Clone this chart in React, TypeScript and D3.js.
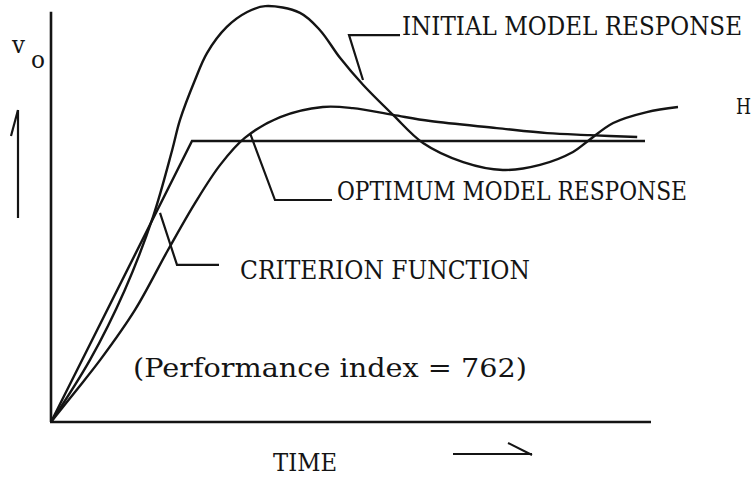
import React from "react";
import * as d3 from "d3";

// time (arbitrary units) and normalised output v_o (criterion level = 1)
const initialT = [0, 0.65, 1.23, 1.7, 2.02, 2.15, 2.4, 2.6, 2.93, 3.27, 3.57, 4.15, 4.48, 4.82, 5.2, 5.7, 6.2, 6.87, 7.53, 8.15, 8.7, 8.95, 9.37, 9.93, 10.45];
const initialV = [0, 0.221, 0.47, 0.73, 0.968, 1.075, 1.217, 1.313, 1.406, 1.459, 1.48, 1.456, 1.395, 1.295, 1.2, 1.093, 0.993, 0.925, 0.897, 0.915, 0.961, 1.0, 1.064, 1.103, 1.121];

const optimumT = [0, 0.4, 0.82, 1.4, 1.95, 2.4, 2.82, 3.23, 3.82, 4.53, 5.03, 5.7, 6.32, 7.43, 8.27, 8.98, 9.77];
const optimumV = [0, 0.107, 0.221, 0.399, 0.612, 0.779, 0.915, 1.011, 1.085, 1.121, 1.117, 1.093, 1.071, 1.046, 1.028, 1.021, 1.014];

const criterionT = [0, 2.35, 9.9];
const criterionV = [0, 1, 1];

// leader lines (data units)
const leaderInitialT = [5.2, 4.967, 5.817];
const leaderInitialV = [1.217, 1.377, 1.377];
const leaderOptimumT = [3.317, 3.733, 4.683];
const leaderOptimumV = [1.028, 0.79, 0.79];
const leaderCriterionT = [1.817, 2.1, 2.8];
const leaderCriterionV = [0.744, 0.559, 0.559];

const xMax = 10;
const yTop = 1.46;

const W = 755;
const H = 478;

export default function App() {
  const x = d3.scaleLinear().domain([0, 10]).range([51, 651]);
  const y = d3.scaleLinear().domain([0, 1]).range([422, 141]);

  const zip = (ts: number[], vs: number[]) => ts.map((t, i) => [t, vs[i]] as [number, number]);

  const smooth = d3
    .line<[number, number]>()
    .x((d) => x(d[0]))
    .y((d) => y(d[1]))
    .curve(d3.curveCatmullRom.alpha(0.5));
  const straight = d3
    .line<[number, number]>()
    .x((d) => x(d[0]))
    .y((d) => y(d[1]));

  const ink = "#141414";
  const font = "'DejaVu Serif', 'Liberation Serif', serif";
  const sw = 2.4;

  return (
    <svg
      width={W}
      height={H}
      style={{ position: "absolute", left: 0, top: 0, background: "#fff" }}
    >
      {/* axes */}
      <line x1={x(0)} y1={y(0)} x2={x(0)} y2={y(yTop)} stroke={ink} strokeWidth={2.6} />
      <line x1={x(0) - 1} y1={y(0)} x2={x(xMax)} y2={y(0)} stroke={ink} strokeWidth={2.6} />

      {/* curves */}
      <path d={straight(zip(criterionT, criterionV)) || ""} fill="none" stroke={ink} strokeWidth={sw} />
      <path d={smooth(zip(initialT, initialV)) || ""} fill="none" stroke={ink} strokeWidth={sw} />
      <path d={smooth(zip(optimumT, optimumV)) || ""} fill="none" stroke={ink} strokeWidth={sw} />

      {/* leaders */}
      <path d={straight(zip(leaderInitialT, leaderInitialV)) || ""} fill="none" stroke={ink} strokeWidth={2.2} />
      <path d={straight(zip(leaderOptimumT, leaderOptimumV)) || ""} fill="none" stroke={ink} strokeWidth={2.2} />
      <path d={straight(zip(leaderCriterionT, leaderCriterionV)) || ""} fill="none" stroke={ink} strokeWidth={2.2} />

      {/* y label and arrow */}
      <text x={12} y={53} fontFamily={font} fontSize={24} fill={ink} textLength={13} lengthAdjust="spacingAndGlyphs">v</text>
      <text x={31} y={68} fontFamily={font} fontSize={24} fill={ink} textLength={14} lengthAdjust="spacingAndGlyphs">o</text>
      <line x1={18} y1={218} x2={18} y2={110} stroke={ink} strokeWidth={2.2} />
      <line x1={11} y1={136} x2={18} y2={110} stroke={ink} strokeWidth={2.2} />

      {/* labels */}
      <g transform="translate(402,35) scale(1,1.18)">
        <text x={0} y={0} fontFamily={font} fontSize={22} fill={ink} textLength={340} lengthAdjust="spacingAndGlyphs">INITIAL MODEL RESPONSE</text>
      </g>
      <text x={337} y={200} fontFamily={font} fontSize={26} fill={ink} textLength={350} lengthAdjust="spacingAndGlyphs">OPTIMUM MODEL RESPONSE</text>
      <text x={240} y={279} fontFamily={font} fontSize={26} fill={ink} textLength={290} lengthAdjust="spacingAndGlyphs">CRITERION FUNCTION</text>
      <text x={133} y={377} fontFamily={font} fontSize={26} fill={ink} textLength={394} lengthAdjust="spacingAndGlyphs">(Performance index = 762)</text>
      <text x={273} y={471} fontFamily={font} fontSize={25} fill={ink} textLength={64} lengthAdjust="spacingAndGlyphs">TIME</text>
      <text x={736} y={114} fontFamily={font} fontSize={22} fill={ink} textLength={15} lengthAdjust="spacingAndGlyphs">H</text>

      {/* time arrow */}
      <line x1={453} y1={454} x2={532} y2={454} stroke={ink} strokeWidth={2} />
      <line x1={508} y1={443} x2={532} y2={455} stroke={ink} strokeWidth={2} />
    </svg>
  );
}
